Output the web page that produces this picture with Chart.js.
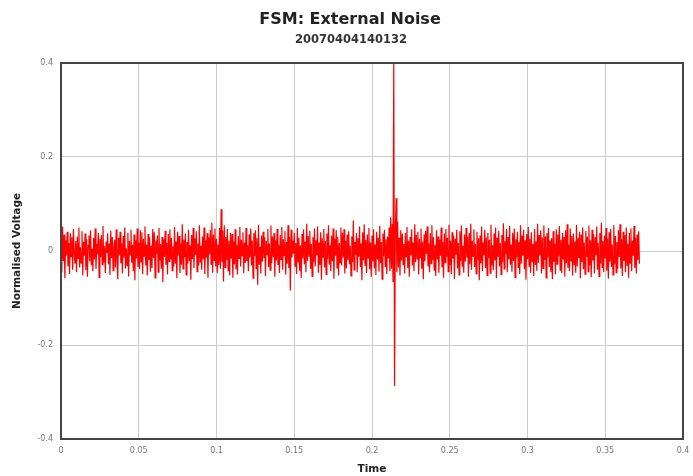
<!DOCTYPE html>
<html>
<head>
<meta charset="utf-8">
<title>FSM: External Noise</title>
<style>
  html, body { margin: 0; padding: 0; background: #ffffff; }
  #wrap { width: 693px; height: 476px; }
</style>
<script src="https://cdn.jsdelivr.net/npm/chart.js@4/dist/chart.umd.min.js"></script>
</head>
<body>
<div id="wrap"><canvas id="noiseChart" width="693" height="476"></canvas></div>
<script>
// Recording header
const chartTitle = 'FSM: External Noise';
const recordingId = '20070404140132';

// Sampling: one sample every 0.5 ms, starting at t = 0 s
const sampleInterval = 0.0005;

// Normalised voltage samples, in thousandths (x 0.001), 20 samples (10 ms) per row
const voltageMilli = [
  14,-46,52,-21,35,-58,23,-9,41,-33,17,-49,38,-12,29,-40,47,-6,-27,21,
  -45,31,-16,50,-35,8,-26,42,-52,19,-10,37,-41,25,-55,12,33,-22,44,-30,
  5,-43,28,-18,48,-38,15,-7,39,-56,26,-13,34,-29,53,-24,10,-47,20,-4,
  37,-28,16,-51,43,-15,30,-42,9,24,-35,46,-20,-60,28,-9,41,-26,17,-48,
  32,-14,50,-37,6,-31,39,-54,21,-8,45,-25,13,-43,35,-62,23,-16,48,-34,
  18,-39,44,-23,40,-49,26,-11,52,-31,14,-52,36,-19,29,-44,11,-36,47,-15,
  40,-57,22,-6,33,-45,49,-20,15,-38,30,-66,25,-12,43,-29,17,-50,36,-22,
  46,-17,28,-42,10,-33,51,-27,20,-58,41,-9,32,-47,16,-29,57,-38,24,-13,
  37,-51,19,-27,45,-21,12,-61,34,-17,49,-36,27,-8,42,-44,16,-31,55,-23,
  11,-40,31,-18,50,-49,23,-14,38,-57,29,-7,45,-28,60,-46,35,-20,48,-33,
  26,-46,14,-30,49,-38,89,-24,43,-65,55,-35,30,-19,47,-42,21,-52,39,-16,
  36,-57,20,-28,46,-39,13,-50,32,-16,51,-33,24,-10,40,-47,18,-25,49,-21,
  12,-43,35,-14,48,-31,22,-58,38,-11,44,-37,27,-72,56,-29,9,-48,33,-23,
  41,-15,29,-53,21,-7,47,-34,16,-41,54,-26,31,-13,38,-55,23,-20,47,-30,
  13,-47,34,-18,51,-40,25,-10,42,-50,19,-27,55,-36,30,-84,45,-14,22,-6,
  39,-32,17,-49,49,-23,28,-42,12,-57,36,-16,46,-28,20,-45,58,-21,32,-11,
  43,-38,15,-54,29,-24,48,-33,23,-9,52,-46,18,-30,40,-61,27,-13,47,-35,
  21,-50,37,-17,55,-29,12,-43,33,-22,48,-59,26,-10,44,-36,30,-52,17,-25,
  50,-31,39,-14,46,-48,22,-37,35,-19,42,-28,11,-53,31,-24,65,-40,19,-8,
  38,-45,27,-12,52,-34,16,-62,40,-20,57,-30,24,-47,35,-15,49,-39,18,-55,
  33,-22,46,-37,14,-51,41,-18,28,-44,53,-26,19,-60,37,-11,45,-33,25,-49,
  31,-16,50,-43,72,-38,58,-66,405,-287,40,112,-45,62,-35,28,-52,44,-20,37,
  -29,15,-48,39,-12,51,-36,22,-55,30,-9,46,-31,18,-43,57,-24,34,-17,41,
  -50,26,-14,48,-38,20,-60,35,-22,43,-7,52,-33,16,-45,38,-27,55,-19,29,
  -41,13,-53,44,-18,31,-46,24,-10,50,-35,19,-57,37,-25,47,-12,28,-44,56,
  -30,21,-49,40,-16,33,-59,26,-8,45,-37,17,-51,42,-21,54,-32,11,-46,35,
  -23,49,-14,30,-55,38,-28,58,-40,22,-11,46,-34,15,-48,41,-19,27,-62,33,
  -26,52,-43,18,-9,45,-36,29,-52,39,-15,24,-47,56,-31,12,-41,37,-20,50,
  -58,28,-12,43,-33,17,-50,34,-24,59,-38,21,-7,47,-45,30,-18,53,-29,14,
  -44,39,-21,48,-56,25,-13,41,-35,19,-49,55,-27,33,-10,45,-39,23,-61,36,
  -17,51,-32,26,-46,40,-22,15,-53,47,-30,20,-42,58,-25,34,-9,44,-48,29,
  -37,54,-19,31,-57,38,-14,49,-34,22,-45,27,-60,42,-23,16,-50,46,-28,35,
  -11,53,-41,24,-47,39,-18,30,-55,44,-26,57,-36,13,-43,48,-21,32,-52,37,
  -29,20,-46,56,-33,27,-15,41,-58,35,-24,50,-39,18,-49,43,-12,31,-44,54,
  -31,23,-56,45,-20,36,-48,29,-9,52,-40,17,-54,38,-27,60,-35,21,-45,33,
  -16,49,-42,26,-59,40,-23,47,-34,14,-51,55,-28,32,-46,19,-38,44,-13,57,
  -37,25,-53,41,-21,34,-45,50,-30,16,-57,39,-26,48,-43,22,-10,53,-36,28,
  -48,35,-19,42,-27
];

// Axis ticks
const timeTickValues = [0, 0.05, 0.1, 0.15, 0.2, 0.25, 0.3, 0.35, 0.4];
const timeTickLabels = ['0', '0.05', '0.1', '0.15', '0.2', '0.25', '0.3', '0.35', '0.4'];
const voltageTickValues = [-0.4, -0.2, 0, 0.2, 0.4];
const voltageTickLabels = ['-0.4', '-0.2', '0', '0.2', '0.4'];

const points = voltageMilli.map((v, i) => ({ x: i * sampleInterval, y: v / 1000 }));

const FONT = '"DejaVu Sans", "Liberation Sans", Arial, sans-serif';
const AXIS_COLOR = '#444444';
const GRID_COLOR = '#cccccc';
const TICK_COLOR = '#777777';

// Headline + recording id above the plot, and a full frame around the plot area
const framePlugin = {
  id: 'frameAndHeader',
  afterDraw(chart) {
    const { ctx, chartArea } = chart;
    ctx.save();
    ctx.strokeStyle = AXIS_COLOR;
    ctx.lineWidth = 2;
    ctx.strokeRect(chartArea.left, chartArea.top, chartArea.right - chartArea.left, chartArea.bottom - chartArea.top);

    ctx.textAlign = 'center';
    ctx.textBaseline = 'middle';
    ctx.fillStyle = '#222222';
    ctx.font = 'bold 16px ' + FONT;
    ctx.fillText(chartTitle, 350, 20);
    ctx.font = 'bold 11.5px ' + FONT;
    ctx.fillStyle = '#333333';
    ctx.fillText(recordingId, 351, 40);
    ctx.restore();
  }
};

new Chart(document.getElementById('noiseChart'), {
  type: 'line',
  data: {
    datasets: [{
      data: points,
      borderColor: '#ff0000',
      borderWidth: 1.2,
      pointRadius: 0,
      tension: 0,
      fill: false
    }]
  },
  options: {
    responsive: false,
    animation: false,
    events: [],
    layout: { padding: { top: 63, right: 10, bottom: 0, left: 0 } },
    plugins: {
      legend: { display: false },
      tooltip: { enabled: false },
      title: { display: false }
    },
    scales: {
      x: {
        type: 'linear',
        min: 0,
        max: 0.4,
        afterBuildTicks: (scale) => { scale.ticks = timeTickValues.map(v => ({ value: v })); },
        afterFit: (scale) => {
          scale.height = 37;
          scale.paddingLeft = 0;
          scale.paddingRight = 0;
        },
        grid: { color: GRID_COLOR, lineWidth: 1, drawTicks: false },
        border: { color: AXIS_COLOR, width: 2 },
        ticks: {
          padding: 7,
          color: TICK_COLOR,
          font: { family: FONT, size: 8 },
          maxRotation: 0,
          autoSkip: false,
          callback: (v, i) => timeTickLabels[i]
        },
        title: {
          display: true,
          text: 'Time',
          color: '#222222',
          font: { family: FONT, size: 10.5, weight: 'bold' },
          padding: { top: 3, bottom: 0 }
        }
      },
      y: {
        type: 'linear',
        min: -0.4,
        max: 0.4,
        afterBuildTicks: (scale) => { scale.ticks = voltageTickValues.map(v => ({ value: v })); },
        afterFit: (scale) => {
          scale.width = 61;
          scale.paddingTop = 0;
          scale.paddingBottom = 0;
        },
        grid: { color: GRID_COLOR, lineWidth: 1, drawTicks: false },
        border: { color: AXIS_COLOR, width: 2 },
        ticks: {
          padding: 8,
          color: TICK_COLOR,
          font: { family: FONT, size: 8 },
          autoSkip: false,
          callback: (v, i) => voltageTickLabels[i]
        },
        title: {
          display: true,
          text: 'Normalised Voltage',
          color: '#222222',
          font: { family: FONT, size: 10.5, weight: 'bold' },
          padding: { top: 11, bottom: 0 }
        }
      }
    }
  },
  plugins: [framePlugin]
});
</script>
</body>
</html>
